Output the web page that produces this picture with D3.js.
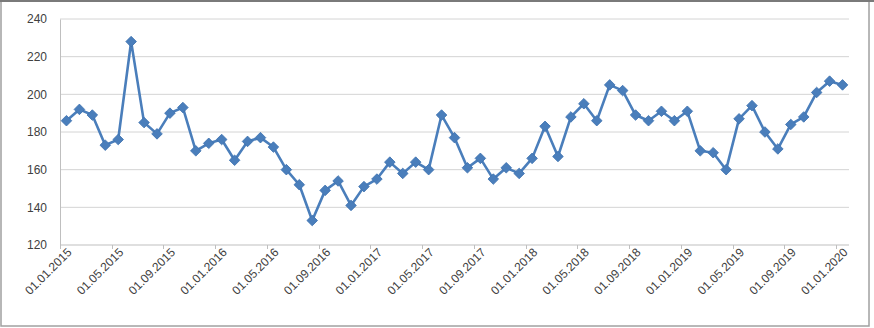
<!DOCTYPE html>
<html>
<head>
<meta charset="utf-8">
<script src="https://cdn.jsdelivr.net/npm/d3@7"></script>
<style>
  body { margin: 0; background: #fff; }
  text { font-family: "Liberation Sans", Arial, sans-serif; fill: #404040; }
</style>
</head>
<body>
<svg id="chart"></svg>
<script>
// monthly values, 01.01.2015 .. 01.01.2020
const values = [
  186, 192, 189, 173, 176, 228, 185, 179, 190, 193, 170, 174,
  176, 165, 175, 177, 172, 160, 152, 133, 149, 154, 141, 151,
  155, 164, 158, 164, 160, 189, 177, 161, 166, 155, 161, 158,
  166, 183, 167, 188, 195, 186, 205, 202, 189, 186, 191, 186,
  191, 170, 169, 160, 187, 194, 180, 171, 184, 188, 201, 207,
  205
];
const yTicks = [120, 140, 160, 180, 200, 220, 240];
const tickEvery = 4;

const fmt = d3.timeFormat('%d.%m.%Y');
const categories = d3.timeMonth.range(new Date(2015, 0, 1), new Date(2020, 1, 1)).map(fmt);

const width = 874, height = 328;
const margin = { left: 60, right: 25, top: 19, bottom: 83 };

const svg = d3.select('#chart')
  .attr('width', width)
  .attr('height', height);

// frame
svg.append('rect')
  .attr('x', 1).attr('y', 1)
  .attr('width', 868).attr('height', 325)
  .attr('fill', '#fff')
  .attr('stroke', '#a0a0a0')
  .attr('stroke-width', 1.5);
svg.append('line')
  .attr('x1', 0).attr('x2', width)
  .attr('y1', 1).attr('y2', 1)
  .attr('stroke', '#7a7a7a').attr('stroke-width', 2);

const x = d3.scaleBand()
  .domain(categories)
  .range([margin.left, width - margin.right]);

const y = d3.scaleLinear()
  .domain([120, 240])
  .range([height - margin.bottom, margin.top]);

// gridlines
svg.append('g')
  .selectAll('line')
  .data(yTicks.slice(1))
  .enter()
  .append('line')
  .attr('x1', margin.left)
  .attr('x2', width - margin.right)
  .attr('y1', d => y(d))
  .attr('y2', d => y(d))
  .attr('stroke', '#d4d4d4')
  .attr('stroke-width', 1);

// y axis
const yAxis = svg.append('g')
  .attr('transform', `translate(${margin.left},0)`)
  .call(d3.axisLeft(y).tickValues(yTicks).tickSize(0).tickPadding(13));
yAxis.select('.domain').attr('stroke', '#bfbfbf');
yAxis.selectAll('text')
  .attr('font-size', 12)
  .style('font-family', '"Liberation Sans", Arial, sans-serif')
  .attr('fill', '#404040');

// x axis (category boundaries as ticks)
const x0 = y(120);
svg.append('line')
  .attr('x1', margin.left).attr('x2', width - margin.right)
  .attr('y1', x0).attr('y2', x0)
  .attr('stroke', '#bfbfbf');

const boundaries = categories.filter((c, i) => i % tickEvery === 0);
svg.append('g')
  .selectAll('line')
  .data(boundaries)
  .enter()
  .append('line')
  .attr('x1', d => Math.round(x(d)) + 0.5)
  .attr('x2', d => Math.round(x(d)) + 0.5)
  .attr('y1', x0)
  .attr('y2', x0 + 4)
  .attr('stroke', '#bfbfbf');

svg.append('g')
  .selectAll('text')
  .data(boundaries)
  .enter()
  .append('text')
  .attr('text-anchor', 'end')
  .attr('font-size', 12)
  .attr('fill', '#333')
  .attr('transform', d => `translate(${x(d) + x.bandwidth() / 2 + 6},${x0 + 8}) rotate(-45)`)
  .text(d => d);

// line
const cx = (d, i) => x(categories[i]) + x.bandwidth() / 2;
const line = d3.line()
  .x(cx)
  .y(d => y(d));

svg.append('path')
  .datum(values)
  .attr('d', line)
  .attr('fill', 'none')
  .attr('stroke', '#4a7ebb')
  .attr('stroke-width', 2.6)
  .attr('stroke-linejoin', 'round');

svg.append('g')
  .selectAll('path')
  .data(values)
  .enter()
  .append('path')
  .attr('d', d3.symbol(d3.symbolSquare, 56))
  .attr('transform', (d, i) => `translate(${cx(d, i)},${y(d)}) rotate(45)`)
  .attr('fill', '#4a7ebb')
  .attr('stroke', '#3f72b0')
  .attr('stroke-width', 0.8);
</script>
</body>
</html>
